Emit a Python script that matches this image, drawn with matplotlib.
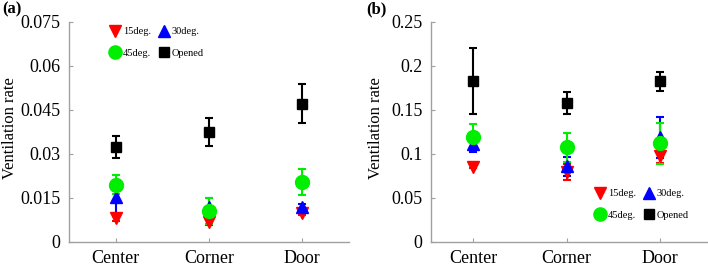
import matplotlib
matplotlib.use("Agg")
import matplotlib.pyplot as plt
from matplotlib.lines import Line2D
import numpy as np

plt.rcParams['font.family'] = ['Liberation Serif', 'DejaVu Serif']

categories = ["Center", "Corner", "Door"]
series = ["15deg.", "30deg.", "45deg.", "Opened"]

# panel (a)
a_15 = [0.0083, 0.0068, 0.0099]
a_15_err = [0.0010, 0.0010, 0.0008]
a_30 = [0.0152, 0.0120, 0.0119]
a_30_err = [0.0060, 0.0030, 0.0010]
a_45 = [0.0196, 0.0105, 0.0205]
a_45_err = [0.0032, 0.0044, 0.0045]
a_op = [0.0324, 0.0375, 0.0472]
a_op_err = [0.0039, 0.0048, 0.0067]

# panel (b)
b_15 = [0.0856, 0.0795, 0.0975]
b_15_err = [0.002, 0.009, 0.008]
b_30 = [0.1110, 0.0860, 0.1190]
b_30_err = [0.0085, 0.0110, 0.0230]
b_45 = [0.1195, 0.1075, 0.1120]
b_45_err = [0.0145, 0.0165, 0.0230]
b_op = [0.1835, 0.1575, 0.1825]
b_op_err = [0.0375, 0.0125, 0.0105]

W, H = 708, 266
fig = plt.figure(figsize=(W/100, H/100), dpi=100)

styles = [
    dict(marker='v', color='#ff0000', ms=9),
    dict(marker='^', color='#0000ff', ms=9),
    dict(marker='o', color='#00ee00', ms=10),
    dict(marker='s', color='#000000', ms=7.5),
]
gray = '#a0a0a0'

def panel(rect, xlim, data, ylim, yticks, yticklabels, ylab_x, legend_anchor):
    ax = fig.add_axes(rect)
    x = np.arange(1, len(categories) + 1)
    for (vals, errs), st, name in zip(data, styles, series):
        ax.errorbar(x, vals, yerr=errs, fmt=st['marker'], color=st['color'],
                    ms=st['ms'], mec=st['color'], ecolor=st['color'],
                    elinewidth=1.5, capsize=3, capthick=1.5)
    ax.set_xlim(*xlim)
    ax.set_ylim(*ylim)
    ax.set_yticks(yticks)
    ax.set_yticklabels(yticklabels)
    ax.set_xticks(x)
    ax.set_xticklabels(categories)
    for s in ['top', 'right']:
        ax.spines[s].set_visible(False)
    for s in ['left', 'bottom']:
        ax.spines[s].set_color(gray)
        ax.spines[s].set_linewidth(1.0)
    ax.tick_params(direction='in', length=3, color=gray, labelsize=13, pad=6)
    ax.set_ylabel("Ventilation rate", fontsize=12)
    ax.yaxis.set_label_coords(ylab_x, 0.52)
    handles = [Line2D([], [], ls='none', marker=st['marker'], color=st['color'],
                      ms=st['ms'] * 0.95) for st in styles]
    order = [0, 2, 1, 3]  # row-wise fill: 15,30 / 45,Opened
    ax.legend([handles[i] for i in order], [series[i] for i in order],
              ncol=2, frameon=False, fontsize=7.5, handletextpad=0.15,
              columnspacing=0.6, labelspacing=1.15, handlelength=1.2,
              borderaxespad=0, borderpad=0,
              loc='upper left', bbox_to_anchor=legend_anchor,
              bbox_transform=fig.transFigure)
    return ax

ax1 = panel([69/W, 24/H, (349-69)/W, 220/H], (0.5, 3.5),
            [(a_15, a_15_err), (a_30, a_30_err), (a_45, a_45_err), (a_op, a_op_err)],
            (0, 0.075), [0, 0.015, 0.03, 0.045, 0.06, 0.075],
            ["0", "0.015", "0.03", "0.045", "0.06", "0.075"], -0.182,
            (109/W, 1 - 27/H))
ax2 = panel([431/W, 24/H, (708-431)/W, 220/H], (0.551, 3.513),
            [(b_15, b_15_err), (b_30, b_30_err), (b_45, b_45_err), (b_op, b_op_err)],
            (0, 0.25), [0, 0.05, 0.1, 0.15, 0.2, 0.25],
            ["0", "0.05", "0.1", "0.15", "0.2", "0.25"], -0.17,
            (594/W, 1 - 189/H))

fig.text(2/W, 1 - 1/H, "(a)", fontsize=12, fontweight='bold', va='top', ha='left')
fig.text(366/W, 1 - 1/H, "(b)", fontsize=12, fontweight='bold', va='top', ha='left')

fig.savefig("out.png", dpi=100)
